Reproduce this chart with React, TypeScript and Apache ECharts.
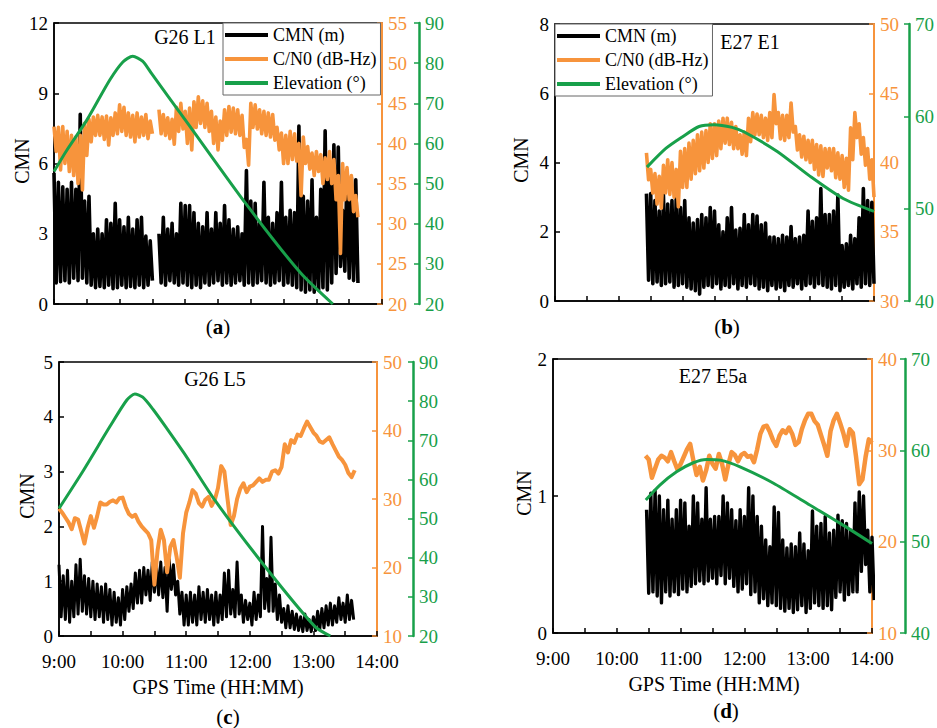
import React, { useEffect, useRef } from 'react';
import * as echarts from 'echarts';

const FONT = '"Liberation Serif", "Times New Roman", serif';
const BLACK = '#000000';
const ORANGE = '#F7943C';
const GREEN = '#18A04A';

// x axis: minutes of the day, 09:00 – 14:00
const X_MIN = 540;
const X_MAX = 840;
const X_STEP = 30;
const xTickLabel = (v: number) => (v % 60 === 0 ? `${v / 60}:00` : '');

const panelTitles = ['G26 L1', 'E27 E1', 'G26 L5', 'E27 E5a'];
const panelLetters = ['a', 'b', 'c', 'd'];
const legendNames = ['CMN (m)', 'C/N0 (dB-Hz)', 'Elevation (°)'];

// [min, max, interval]
const cmnAxes = [[0, 12, 3], [0, 8, 2], [0, 5, 1], [0, 2, 1]];
const cnoAxes = [[20, 55, 5], [30, 50, 5], [10, 50, 10], [10, 40, 10]];
const elevAxes = [[20, 90, 10], [40, 70, 10], [20, 90, 10], [40, 70, 10]];

// ---------- (a) G26 L1 : samples every 4 min from 09:00 (min 0) ----------
const aStart = 0;
const aStep = 4;
const aCmnHigh = [5.6, 5.2, 5.0, 4.9, 5.2, 4.9, 8.1, 4.4,
  4.6, 3.0, 3.2, 3.0, 3.6, 3.45, 4.3, 3.6,
  3.3, 3.7, 3.2, 3.6, 3.7, 2.9, 2.7,
  null,
  3.0, 3.7, 3.2, 3.45, 3.0, 4.3, 4.2, 4.2,
  3.9, 3.45, 3.3, 3.9, 3.2, 3.9, 3.45, 4.2,
  3.6, 3.2, 3.3, 3.0, 5.7, 4.4, 4.3, 3.45,
  5.2, 3.7, 3.45, 3.9, 5.2, 3.7, 4.0, 3.9,
  7.6, 4.6, 4.4, 5.3, 3.7, 4.9, 7.4, 5.6,
  6.8, 6.7, 4.0, 5.7, 5.4, 5.3];
const aCmnLow = [0.9, 0.95, 1.0, 0.9, 1.1, 1.0, 1.1, 0.9,
  0.8, 0.7, 0.75, 0.7, 0.8, 0.65, 0.7, 0.8,
  0.7, 0.75, 0.7, 0.8, 0.7, 0.8, 1.0,
  null,
  0.9, 0.8, 1.0, 0.9, 0.8, 0.9, 0.8, 0.7,
  0.8, 0.7, 0.9, 0.8, 0.9, 1.0, 0.8, 0.9,
  0.8, 0.9, 1.0, 0.8, 0.9, 0.8, 0.9, 1.0,
  0.9, 0.8, 0.9, 1.0, 0.8, 0.9, 0.8, 0.7,
  0.6, 0.5, 0.6, 0.5, 0.6, 0.7, 0.6, 0.9,
  1.3, 1.6, 1.4, 1.1, 1.0, 0.9];
const aCnoHigh = [42.1, 42.0, 42.1, 41.5, 41.0, 40.8, 41.0, 42.5,
  43.0, 43.3, 43.5, 43.3, 43.4, 43.2, 43.8, 44.8,
  44.5, 43.8, 43.5, 43.8, 43.3, 43.6, 42.8,
  null,
  44.2, 43.6, 43.2, 43.0, 44.5, 45.0, 44.0, 44.4,
  45.2, 45.8, 45.3, 45.0, 44.0, 43.3, 42.8, 44.2,
  44.6, 44.4, 44.2, 43.5, 40.5, 45.0, 44.8, 44.2,
  44.0, 43.8, 43.6, 42.0, 41.3, 41.0, 41.5, 41.2,
  40.0, 40.8, 39.6, 38.8, 39.0, 38.6, 38.2, 39.0,
  38.0, 36.0, 37.5, 37.0, 36.0, 33.5];
const aCnoLow = [39.0, 36.7, 37.5, 36.5, 36.0, 35.0, 34.2, 38.5,
  40.2, 41.0, 41.0, 40.5, 39.8, 41.0, 41.2, 41.5,
  41.0, 40.8, 40.2, 40.8, 41.0, 40.6, 41.2,
  null,
  41.2, 41.0, 40.6, 39.9, 41.5, 41.8, 40.0, 39.2,
  42.0, 42.5, 42.0, 41.5, 40.0, 39.2, 40.4, 41.0,
  41.4, 41.2, 41.0, 39.5, 37.3, 42.0, 41.8, 41.2,
  41.0, 40.8, 40.4, 39.2, 37.5, 37.5, 38.0, 37.8,
  33.5, 37.5, 36.8, 36.0, 36.5, 35.0, 35.5, 35.0,
  33.0, 26.3, 33.0, 33.0, 31.5, 30.8];
const aElevMin = [0, 11, 30, 51, 63, 72, 81, 89, 121, 176, 225, 255];
const aElev = [53, 58, 65.8, 75.8, 80.3, 81.7, 80.5, 77.5, 65.5, 44.8, 27.9, 20];

// ---------- (b) E27 E1 : samples every 4 min from 10:26 (min 86) ----------
const bStart = 86;
const bStep = 4;
const bCmnHigh = [3.1, 3.1, 2.9, 2.6, 3.05, 2.8, 2.9, 3.0, 2.7, 2.9,
  2.4, 2.25, 2.35, 2.5, 2.4, 2.7, 2.6, 2.2, 2.0, 2.4,
  2.7, 2.05, 2.1, 2.5, 2.2, 2.5, 2.45, 2.2, 2.25, 1.85,
  1.85, 1.8, 1.9, 1.85, 2.15, 1.8, 1.85, 1.9, 2.6, 2.3,
  2.4, 3.25, 2.5, 2.5, 2.6, 3.06, 1.6, 1.65, 1.9, 1.8,
  2.4, 3.25, 2.9, 2.85];
const bCmnLow = [0.6, 0.5, 0.55, 0.45, 0.5, 0.55, 0.4, 0.45, 0.5, 0.4,
  0.35, 0.3, 0.2, 0.4, 0.45, 0.4, 0.5, 0.35, 0.45, 0.4,
  0.5, 0.35, 0.45, 0.4, 0.5, 0.45, 0.35, 0.4, 0.3, 0.45,
  0.35, 0.4, 0.3, 0.45, 0.4, 0.5, 0.35, 0.45, 0.5, 0.4,
  0.5, 0.45, 0.4, 0.35, 0.45, 0.3, 0.4, 0.45, 0.35, 0.5,
  0.4, 0.5, 0.45, 0.5];
const bCnoHigh = [40.7, 39.5, 39.2, 39.0, 39.8, 40.2, 40.0, 39.5, 40.8, 41.0,
  41.4, 41.6, 42.0, 42.2, 42.3, 42.8, 42.8, 43.0, 43.2, 43.2,
  42.9, 42.6, 42.0, 42.2, 43.2, 43.6, 43.5, 43.4, 43.2, 43.6,
  44.9, 43.6, 43.4, 43.4, 44.3, 42.6, 42.0, 41.9, 41.6, 41.6,
  41.3, 41.2, 41.0, 41.0, 41.0, 40.7, 40.5, 40.3, 42.5, 43.6,
  42.8, 41.8, 41.0, 40.2];
const bCnoLow = [38.75, 37.8, 37.0, 36.7, 37.8, 37.7, 37.5, 36.8, 38.2, 38.2,
  38.8, 39.2, 39.4, 39.6, 40.0, 40.3, 40.5, 41.0, 41.4, 41.3,
  41.0, 41.0, 40.6, 40.5, 41.5, 42.0, 42.0, 41.8, 41.6, 41.8,
  42.8, 41.7, 41.6, 41.8, 42.2, 40.9, 40.4, 40.2, 40.0, 39.5,
  39.1, 39.0, 39.6, 39.4, 38.9, 38.8, 38.2, 38.0, 40.2, 41.8,
  40.6, 39.8, 38.8, 37.5];
const bElevMin = [86.5, 104.5, 120, 135.5, 149.5, 166.5, 178, 209, 240, 271, 300];
const bElev = [54.5, 56.55, 57.8, 58.9, 59.1, 58.8, 58.3, 56.2, 53.5, 51.1, 49.7];

// ---------- (c) G26 L5 ----------
const cStart = 0;
const cStep = 4;
const cCmnHigh = [1.3, 1.1, 1.2, 1.0, 1.3, 1.4, 1.1, 1.05, 1.0, 0.95,
  0.9, 0.95, 0.85, 0.8, 0.7, 0.85, 0.9, 0.95, 1.15, 1.2,
  1.25, 1.2, 1.35, 1.3, 1.35, 1.25, 1.4, 1.3, 1.0, 0.8,
  0.75, 0.8, 0.75, 0.9, 0.8, 0.85, 0.75, 0.8, 0.75, 1.15,
  1.2, 0.85, 1.35, 0.75, 0.65, 0.6, 0.8, 0.75, 2.0, 1.05,
  1.8, 0.95, 0.75, 0.5, 0.55, 0.45, 0.4, 0.35, 0.4, 0.3,
  0.35, 0.45, 0.5, 0.55, 0.6, 0.55, 0.7, 0.6, 0.75, 0.65];
const cCmnLow = [0.35, 0.3, 0.25, 0.35, 0.4, 0.45, 0.4, 0.35, 0.3, 0.35,
  0.25, 0.3, 0.2, 0.25, 0.2, 0.3, 0.45, 0.5, 0.6, 0.6,
  0.75, 0.65, 0.8, 0.75, 0.7, 0.45, 0.85, 0.75, 0.4, 0.2,
  0.2, 0.25, 0.2, 0.3, 0.25, 0.3, 0.2, 0.25, 0.3, 0.35,
  0.4, 0.35, 0.4, 0.25, 0.3, 0.2, 0.3, 0.35, 0.5, 0.45,
  0.45, 0.3, 0.25, 0.15, 0.15, 0.12, 0.1, 0.08, 0.1, 0.08,
  0.1, 0.12, 0.15, 0.2, 0.2, 0.25, 0.3, 0.25, 0.3, 0.3];
const cCnoStart = 0;
const cCnoStep = 3;
const cCno = [28.6, 28.0, 27.3, 26.6, 25.6, 27.2, 27.0, 25.3, 23.5, 25.8,
  27.5, 25.8, 27.5, 29.5, 29.2, 29.2, 29.6, 29.8, 29.5, 30.1,
  30.2, 28.8, 27.8, 27.4, 27.7, 26.7, 26.0, 25.5, 25.0, 24.0,
  17.5, 22.5, 25.5, 24.0, 19.3, 23.0, 24.0, 21.5, 18.5, 25.0,
  28.0, 29.5, 31.3, 30.8, 29.4, 28.9, 29.9, 30.3, 29.0, 29.9,
  31.6, 34.8, 34.0, 30.0, 26.2, 27.5, 30.0, 31.5, 32.3, 31.0,
  31.8, 32.0, 32.5, 33.0, 32.5, 32.8, 32.8, 34.0, 34.2, 33.7,
  34.7, 38.0, 36.8, 38.6, 38.2, 39.4, 39.2, 40.3, 41.3, 40.5,
  39.7, 39.2, 38.4, 38.2, 38.6, 39.0, 38.0, 37.1, 36.2, 35.7,
  35.0, 33.8, 33.2, 34.2];
const cElevMin = [0, 23, 48, 64, 71.5, 79, 89, 101.5, 120, 147, 194.5, 241.5, 256];
const cElev = [52.6, 62.3, 73.5, 80.3, 81.8, 81.0, 77.8, 73.1, 65.9, 54.7, 37.7, 22.4, 20];

// ---------- (d) E27 E5a ----------
const dStart = 88;
const dStep = 4;
const dCmnHigh = [0.9, 1.02, 1.04, 1.0, 0.9, 0.97, 0.83, 0.9, 0.97, 0.95,
  0.78, 1.0, 0.95, 0.83, 1.06, 0.83, 0.85, 0.85, 1.0, 0.95,
  0.9, 0.82, 0.9, 0.85, 1.06, 1.0, 0.85, 0.78, 0.68, 0.63,
  0.92, 0.88, 0.68, 0.62, 0.65, 0.63, 0.73, 0.65, 0.6, 0.89,
  0.78, 0.8, 0.85, 0.73, 0.75, 0.86, 0.82, 0.8, 0.75, 0.95,
  1.03, 1.0, 0.75, 0.7];
const dCmnLow = [0.29, 0.3, 0.27, 0.22, 0.3, 0.27, 0.3, 0.28, 0.32, 0.3,
  0.34, 0.36, 0.38, 0.36, 0.38, 0.4, 0.36, 0.42, 0.36, 0.4,
  0.34, 0.3, 0.32, 0.36, 0.28, 0.3, 0.22, 0.25, 0.2, 0.22,
  0.2, 0.18, 0.16, 0.18, 0.15, 0.17, 0.2, 0.15, 0.18, 0.22,
  0.2, 0.18, 0.2, 0.17, 0.26, 0.3, 0.24, 0.28, 0.3, 0.3,
  0.45, 0.5, 0.3, 0.24];
const dCnoStart = 87;
const dCnoStep = 3;
const dCno = [29.4, 29.0, 27.0, 28.0, 29.0, 29.4, 29.2, 28.8, 29.8, 28.8,
  27.9, 28.5, 29.3, 30.1, 30.7, 28.9, 27.3, 28.2, 26.7, 27.8,
  29.4, 28.5, 28.0, 29.6, 28.5, 26.8, 28.5, 29.8, 29.5, 28.8,
  29.5, 29.7, 29.3, 29.4, 28.7, 30.1, 31.8, 32.6, 32.7, 32.0,
  31.1, 30.5, 31.6, 32.2, 31.9, 32.5, 31.8, 30.6, 30.9, 32.3,
  33.3, 34.0, 34.0, 33.2, 32.8, 31.7, 30.6, 29.4, 32.1, 33.3,
  34.0, 33.0, 31.9, 30.5, 32.3, 31.9, 29.3, 26.3, 26.8, 29.3,
  31.2, 30.8];
const dElevMin = [87.3, 100.5, 116.2, 131.9, 144.5, 157.1, 175.9, 207.4, 238.8, 270.2, 300];
const dElev = [54.56, 56.2, 57.65, 58.64, 59.0, 58.93, 58.2, 56.4, 54.2, 52.0, 49.8];

// ---------- builders ----------
// noisy trace: one high and one low reading per sample, drawn as a dense zig-zag
function band(start: number, step: number, high: (number | null)[], low: (number | null)[]) {
  const pts: any[] = [];
  high.forEach((h, i) => {
    const t = X_MIN + start + i * step;
    if (h == null || low[i] == null) {
      pts.push([t, '-']);
      return;
    }
    pts.push([t, h]);
    pts.push([t + step / 2, low[i]]);
  });
  return pts;
}
function evenLine(start: number, step: number, vals: number[]) {
  return vals.map((v, i) => [X_MIN + start + i * step, v]);
}
function pairLine(mins: number[], vals: number[]) {
  return mins.map((m, i) => [X_MIN + m, vals[i]]);
}

const cmnData = [
  band(aStart, aStep, aCmnHigh, aCmnLow),
  band(bStart, bStep, bCmnHigh, bCmnLow),
  band(cStart, cStep, cCmnHigh, cCmnLow),
  band(dStart, dStep, dCmnHigh, dCmnLow),
];
const cnoData = [
  band(aStart, aStep, aCnoHigh, aCnoLow),
  band(bStart, bStep, bCnoHigh, bCnoLow),
  evenLine(cCnoStart, cCnoStep, cCno),
  evenLine(dCnoStart, dCnoStep, dCno),
];
const cnoWidths = [3.6, 3.6, 4, 4.5];
const cmnWidths = [3.6, 3.6, 3.0, 3.4];
const elevData = [
  pairLine(aElevMin, aElev),
  pairLine(bElevMin, bElev),
  pairLine(cElevMin, cElev),
  pairLine(dElevMin, dElev),
];

const grids = [
  { left: 54, top: 23, width: 328, height: 281 },
  { left: 555, top: 24, width: 321, height: 277 },
  { left: 59, top: 362, width: 318, height: 274 },
  { left: 553, top: 359, width: 319, height: 274 },
];
const greenOffsets = [37, 35, 36, 33];
const titlePos = [[185, 37], [750, 42], [215, 379], [713, 376]];
const letterPos = [[218, 327], [727, 327], [228, 717], [726, 711]];
const cmnNamePos = [[22, 161], [521, 160], [27, 496], [524, 493]];
const xNamePos = [[218, 687], [714, 684]];

function yAxisCfg(gi: number, r: number[], color: string, position: string, offset: number, lw: number) {
  return {
    type: 'value',
    gridIndex: gi,
    min: r[0],
    max: r[1],
    interval: r[2],
    position,
    offset,
    axisLine: { show: true, onZero: false, lineStyle: { color, width: lw } },
    axisTick: { show: true, inside: true, length: 5, lineStyle: { color, width: 1.5 } },
    axisLabel: { color, fontSize: 19, fontFamily: FONT, margin: 6, showMinLabel: true, showMaxLabel: true },
    splitLine: { show: false },
  };
}

function buildOption() {
  const xAxis = grids.map((_, gi) => ({
    type: 'value',
    gridIndex: gi,
    min: X_MIN,
    max: X_MAX,
    interval: X_STEP,
    axisLine: { show: true, onZero: false, lineStyle: { color: BLACK, width: 1.5 } },
    axisTick: { show: true, inside: true, length: 5, lineStyle: { color: BLACK, width: 1.5 } },
    axisLabel: { show: gi >= 2, formatter: xTickLabel, color: BLACK, fontSize: 19, fontFamily: FONT, margin: 16 },
    splitLine: { show: false },
  }));
  const yAxis: any[] = [];
  grids.forEach((_, gi) => {
    yAxis.push(yAxisCfg(gi, cmnAxes[gi], BLACK, 'left', 0, 1.5));
    yAxis.push(yAxisCfg(gi, cnoAxes[gi], ORANGE, 'right', 0, 2));
    yAxis.push(yAxisCfg(gi, elevAxes[gi], GREEN, 'right', greenOffsets[gi], 2.5));
  });
  const series: any[] = [];
  grids.forEach((_, gi) => {
    series.push({
      type: 'line', name: legendNames[0], xAxisIndex: gi, yAxisIndex: gi * 3,
      data: cmnData[gi], showSymbol: false, symbol: 'none', color: BLACK, connectNulls: false,
      lineStyle: { color: BLACK, width: cmnWidths[gi], join: 'round' }, z: 2,
    });
    series.push({
      type: 'line', name: legendNames[1], xAxisIndex: gi, yAxisIndex: gi * 3 + 1,
      data: cnoData[gi], showSymbol: false, symbol: 'none', color: ORANGE, connectNulls: false,
      lineStyle: { color: ORANGE, width: cnoWidths[gi], join: 'round' }, z: 3,
    });
    series.push({
      type: 'line', name: legendNames[2], xAxisIndex: gi, yAxisIndex: gi * 3 + 2,
      data: elevData[gi], showSymbol: false, symbol: 'none', color: GREEN, smooth: 0.25,
      lineStyle: { color: GREEN, width: 3, join: 'round' }, z: 4,
    });
  });

  const legendBase = {
    orient: 'vertical',
    data: legendNames,
    icon: 'rect',
    itemWidth: 43,
    itemHeight: 4,
    itemGap: 4,
    padding: [2, 4, 2, 2],
    borderColor: '#666',
    borderWidth: 1,
    backgroundColor: '#ffffff',
    selectedMode: false,
    textStyle: { fontSize: 18, fontFamily: FONT, color: BLACK, lineHeight: 20 },
  };

  const graphic: any[] = [];
  grids.forEach((_, gi) => {
    graphic.push({
      type: 'text', x: titlePos[gi][0], y: titlePos[gi][1],
      style: { text: panelTitles[gi], fontSize: 20, fontFamily: FONT, fill: BLACK, align: 'center', verticalAlign: 'middle' },
    });
    graphic.push({
      type: 'text', x: cmnNamePos[gi][0], y: cmnNamePos[gi][1], rotation: Math.PI / 2,
      style: { text: 'CMN', fontSize: 20, fontFamily: FONT, fill: BLACK, align: 'center', verticalAlign: 'middle' },
    });
    graphic.push({
      type: 'text', x: letterPos[gi][0], y: letterPos[gi][1],
      style: {
        text: `{p|(}{b|${panelLetters[gi]}}{p|)}`,
        rich: {
          p: { fontSize: 21, fontFamily: FONT, fill: BLACK },
          b: { fontSize: 21, fontFamily: FONT, fontWeight: 'bold', fill: BLACK },
        },
        align: 'center', verticalAlign: 'middle',
      },
    });
  });
  xNamePos.forEach((p) => {
    graphic.push({
      type: 'text', x: p[0], y: p[1],
      style: { text: 'GPS Time (HH:MM)', fontSize: 20, fontFamily: FONT, fill: BLACK, align: 'center', verticalAlign: 'middle' },
    });
  });

  return {
    animation: false,
    backgroundColor: '#ffffff',
    textStyle: { fontFamily: FONT },
    grid: grids.map((g) => ({ ...g, show: true, borderColor: BLACK, borderWidth: 1.5, backgroundColor: 'transparent', containLabel: false })),
    xAxis,
    yAxis,
    series,
    legend: [
      { ...legendBase, left: 223, top: 23 },
      { ...legendBase, left: 555, top: 24 },
    ],
    graphic,
  };
}

export default function App() {
  const ref = useRef<HTMLDivElement>(null);
  useEffect(() => {
    if (!ref.current) return;
    const chart = echarts.init(ref.current, undefined, { renderer: 'svg' });
    chart.setOption(buildOption() as any);
    return () => chart.dispose();
  }, []);
  return (
    <div
      ref={ref}
      style={{ position: 'absolute', left: 0, top: 0, width: 937, height: 728, background: '#fff' }}
    />
  );
}
